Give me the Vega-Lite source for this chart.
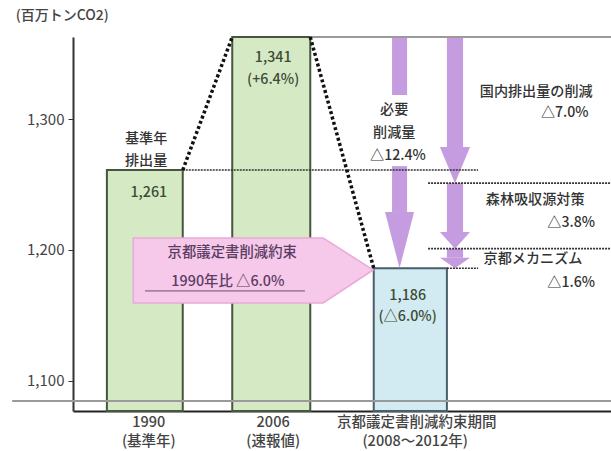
{
  "$schema": "https://vega.github.io/schema/vega-lite/v6.json",
  "width": 538,
  "height": 374,
  "autosize": "none",
  "padding": {"left": 73, "top": 37, "right": 0, "bottom": 40},
  "background": "white",
  "config": {
    "view": {"stroke": null},
    "font": "Noto Sans CJK JP",
    "text": {"font": "Noto Sans CJK JP"}
  },
  "data": {
    "values": [
      {"part": "bar", "cat": "1990", "x": 6.3, "xe": 20.4, "y": 1261},
      {"part": "bar", "cat": "2006", "x": 29.6, "xe": 44.1, "y": 1341},
      {"part": "bar", "cat": "kyoto", "x": 55.9, "xe": 69.5, "y": 1186},

      {"part": "shaft", "x": 59.3, "xe": 62.1, "y": 1312, "ye": 1341},
      {"part": "shaft", "x": 59.3, "xe": 62.1, "y": 1229, "ye": 1264},
      {"part": "shaft", "x": 69.5, "xe": 72.5, "y": 1278.7, "ye": 1341},
      {"part": "shaft", "x": 69.5, "xe": 72.5, "y": 1213.7, "ye": 1251},
      {"part": "shaft", "x": 69.5, "xe": 72.5, "y": 1194, "ye": 1201},

      {"part": "head", "id": "h1", "x": 58.0, "y": 1229, "ye": 1229},
      {"part": "head", "id": "h1", "x": 60.7, "y": 1229, "ye": 1186},
      {"part": "head", "id": "h1", "x": 63.4, "y": 1229, "ye": 1229},
      {"part": "head", "id": "h2", "x": 68.2, "y": 1278.7, "ye": 1278.7},
      {"part": "head", "id": "h2", "x": 71.0, "y": 1278.7, "ye": 1251},
      {"part": "head", "id": "h2", "x": 73.8, "y": 1278.7, "ye": 1278.7},
      {"part": "head", "id": "h3", "x": 68.2, "y": 1213.7, "ye": 1213.7},
      {"part": "head", "id": "h3", "x": 71.0, "y": 1213.7, "ye": 1201},
      {"part": "head", "id": "h3", "x": 73.8, "y": 1213.7, "ye": 1213.7},
      {"part": "head", "id": "h4", "x": 68.2, "y": 1194, "ye": 1194},
      {"part": "head", "id": "h4", "x": 71.0, "y": 1194, "ye": 1186},
      {"part": "head", "id": "h4", "x": 73.8, "y": 1194, "ye": 1194},

      {"part": "callout", "id": "c", "x": 11.2, "y": 1209.2, "ye": 1159.5},
      {"part": "callout", "id": "c", "x": 46.5, "y": 1209.2, "ye": 1159.5},
      {"part": "callout", "id": "c", "x": 55.8, "y": 1184.7, "ye": 1184.7},

      {"part": "dotthin", "x": 20.4, "xe": 75.3, "y": 1261},
      {"part": "dotthin", "x": 66.0, "xe": 100, "y": 1251},
      {"part": "dotthin", "x": 66.0, "xe": 100, "y": 1201},
      {"part": "dotthin", "x": 69.5, "xe": 75.3, "y": 1186},
      {"part": "dotthick", "x": 20.4, "y": 1261, "xe": 29.6, "ye": 1341},
      {"part": "dotthick", "x": 44.1, "y": 1341, "xe": 55.9, "ye": 1186},
      {"part": "gray", "x": 44.1, "xe": 100, "y": 1341},
      {"part": "gray", "x": -11.3, "xe": 100, "y": 1084.6},
      {"part": "under", "x": 13.4, "xe": 43.1, "y": 1168.7},

      {"part": "text", "role": "unit", "label": "(百万トンCO2)", "x": -2, "y": 1351.5},
      {"part": "text", "role": "note", "label": "基準年", "x": 13.6, "y": 1284.5},
      {"part": "text", "role": "note", "label": "排出量", "x": 13.6, "y": 1267.8},
      {"part": "text", "role": "note", "label": "必要", "x": 59.7, "y": 1304.5},
      {"part": "text", "role": "note", "label": "削減量", "x": 59.7, "y": 1289.4},
      {"part": "text", "role": "note", "label": "△12.4%", "x": 60.4, "y": 1271.8},
      {"part": "text", "role": "note", "label": "国内排出量の削減", "x": 86.1, "y": 1313.5},
      {"part": "text", "role": "note", "label": "△7.0%", "x": 91.4, "y": 1303},
      {"part": "text", "role": "note", "label": "森林吸収源対策", "x": 85.9, "y": 1238.2},
      {"part": "text", "role": "note", "label": "△3.8%", "x": 92.6, "y": 1220.6},
      {"part": "text", "role": "note", "label": "京都メカニズム", "x": 85.5, "y": 1193.1},
      {"part": "text", "role": "note", "label": "△1.6%", "x": 92.6, "y": 1174.8},
      {"part": "text", "role": "value", "label": "1,261", "x": 14.1, "y": 1243.5},
      {"part": "text", "role": "value", "label": "1,341", "x": 37.2, "y": 1330.5},
      {"part": "text", "role": "value", "label": "(+6.4%)", "x": 37.2, "y": 1319.5},
      {"part": "text", "role": "value", "label": "1,186", "x": 62.2, "y": 1164.9},
      {"part": "text", "role": "value", "label": "(△6.0%)", "x": 62.2, "y": 1148.5},
      {"part": "text", "role": "callout", "label": "京都議定書削減約束", "x": 29.6, "y": 1197.7},
      {"part": "text", "role": "callout", "label": "1990年比 △6.0%", "x": 28.8, "y": 1175.5},
      {"part": "text", "role": "xlabel", "label": "1990", "x": 14.1, "y": 1067.8},
      {"part": "text", "role": "xlabel", "label": "(基準年)", "x": 14.1, "y": 1053.3},
      {"part": "text", "role": "xlabel", "label": "2006", "x": 37.2, "y": 1067.8},
      {"part": "text", "role": "xlabel", "label": "(速報値)", "x": 37.2, "y": 1053.3},
      {"part": "text", "role": "xlabel", "label": "京都議定書削減約束期間", "x": 63.9, "y": 1067.8},
      {"part": "text", "role": "xlabel", "label": "(2008〜2012年)", "x": 63.6, "y": 1053.3}
    ]
  },
  "encoding": {
    "x": {
      "field": "x", "type": "quantitative",
      "scale": {"domain": [0, 100], "nice": false, "zero": false},
      "axis": {"labels": false, "ticks": false, "title": null, "grid": false, "domainColor": "#222", "domainWidth": 2}
    },
    "y": {
      "field": "y", "type": "quantitative",
      "scale": {"domain": [1077, 1300, 1341], "range": [374, 82, 0], "nice": false, "zero": false},
      "axis": {
        "values": [1100, 1200, 1300], "labelExpr": "format(datum.value, ',')", "title": null, "grid": false,
        "tickSize": 5, "tickColor": "#333", "tickWidth": 1,
        "domainColor": "#333", "domainWidth": 2,
        "labelFontSize": 15, "labelColor": "#444", "labelPadding": 4,
        "labelFont": "Noto Sans CJK JP"
      }
    }
  },
  "layer": [
    {
      "transform": [{"filter": "datum.part === 'bar'"}],
      "mark": {"type": "rect", "strokeWidth": 2},
      "encoding": {
        "x2": {"field": "xe"},
        "y2": {"datum": 1077},
        "fill": {"field": "cat", "type": "nominal", "legend": null,
          "scale": {"domain": ["1990", "2006", "kyoto"], "range": ["#d6e9c5", "#d6e9c5", "#d2eaf2"]}},
        "stroke": {"field": "cat", "type": "nominal", "legend": null,
          "scale": {"domain": ["1990", "2006", "kyoto"], "range": ["#45573f", "#45573f", "#4a5e6c"]}}
      }
    },
    {
      "transform": [{"filter": "datum.part === 'shaft'"}],
      "mark": {"type": "rect", "color": "#c69ce0"},
      "encoding": {"x2": {"field": "xe"}, "y2": {"field": "ye"}}
    },
    {
      "transform": [{"filter": "datum.part === 'head'"}],
      "mark": {"type": "area", "color": "#c69ce0", "opacity": 1},
      "encoding": {"y2": {"field": "ye"}, "detail": {"field": "id"}}
    },
    {
      "transform": [{"filter": "datum.part === 'callout'"}],
      "mark": {"type": "area", "fill": "#f6c8ea", "stroke": "#e9a9d8", "strokeWidth": 1.5, "opacity": 1, "fillOpacity": 1},
      "encoding": {"y2": {"field": "ye"}, "detail": {"field": "id"}}
    },
    {
      "transform": [{"filter": "datum.part === 'dotthin'"}],
      "mark": {"type": "rule", "color": "#333", "strokeWidth": 1.6, "strokeDash": [2, 1]},
      "encoding": {"x2": {"field": "xe"}}
    },
    {
      "transform": [{"filter": "datum.part === 'gray'"}],
      "mark": {"type": "rule", "color": "#9a9a9a", "strokeWidth": 2},
      "encoding": {"x2": {"field": "xe"}}
    },
    {
      "transform": [{"filter": "datum.part === 'under'"}],
      "mark": {"type": "rule", "color": "#6b4d6e", "strokeWidth": 1},
      "encoding": {"x2": {"field": "xe"}}
    },
    {
      "transform": [{"filter": "datum.part === 'dotthick'"}],
      "mark": {"type": "rule", "color": "#111", "strokeWidth": 3.5, "strokeDash": [3, 2.5]},
      "encoding": {"x2": {"field": "xe"}, "y2": {"field": "ye"}}
    },
    {
      "transform": [{"filter": "datum.part === 'text'"}],
      "mark": {"type": "text", "align": "center", "baseline": "middle", "fontSize": 14, "fontWeight": 500},
      "encoding": {
        "text": {"field": "label"},
        "color": {"field": "role", "type": "nominal", "legend": null,
          "scale": {"domain": ["unit", "note", "value", "callout", "xlabel"],
                    "range": ["#444", "#333", "#3d4b34", "#5a3d62", "#444"]}},
        "size": {"field": "role", "type": "nominal", "legend": null,
          "scale": {"domain": ["unit", "note", "value", "callout", "xlabel"],
                    "range": [14, 14.5, 14, 16, 13]}}
      }
    }
  ]
}
